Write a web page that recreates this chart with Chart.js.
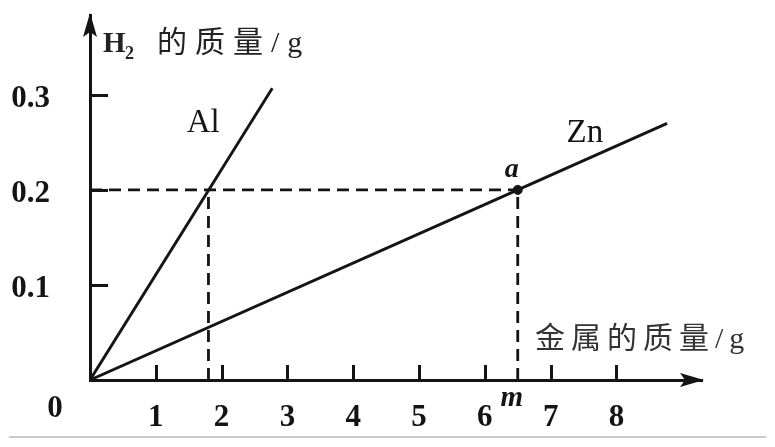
<!DOCTYPE html>
<html>
<head>
<meta charset="utf-8">
<script src="https://cdn.jsdelivr.net/npm/chart.js@4.4.1/dist/chart.umd.min.js"></script>
<style>
  html, body { margin: 0; padding: 0; background: #fff; }
  #wrap { width: 775px; height: 447px; position: relative; }
</style>
</head>
<body>
<div id="wrap"><canvas id="graph1"></canvas></div>
<script>
// metal mass (g) vs H2 mass (g)
const alMass = [0, 2.77];
const alH2 = [0, 0.307];
const znMass = [0, 6.5, 8.77];
const znH2 = [0, 0.2, 0.27];
const pointA = [6.5, 0.2];
const alAt02 = 1.8;
const xTicks = [1, 2, 3, 4, 5, 6, 7, 8];
const yTicks = [0.1, 0.2, 0.3];

const ink = "#141414";
const serif = '"Liberation Serif", "Times New Roman", "Noto Sans CJK SC", serif';
const toXY = (xs, ys) => xs.map((x, i) => ({ x: x, y: ys[i] }));

function solid(data) {
    return { data: data, showLine: true, borderColor: ink, borderWidth: 2.9, pointRadius: 0, fill: false };
}
function dashed(data) {
    return { data: data, showLine: true, borderColor: ink, borderWidth: 2.8, borderDash: [12, 7], pointRadius: 0, fill: false };
}

function say(ctx, s, x, y, font, color, align, spacing) {
    ctx.save();
    ctx.font = font;
    ctx.fillStyle = color || ink;
    ctx.textAlign = align || "left";
    ctx.textBaseline = "alphabetic";
    ctx.letterSpacing = spacing || "0px";
    ctx.fillText(s, x, y);
    ctx.restore();
}

const decor = {
    id: "decor",
    afterDraw(chart) {
        const ctx = chart.ctx;
        const xs = chart.scales.x, ys = chart.scales.y;
        const x0 = xs.getPixelForValue(0), y0 = ys.getPixelForValue(0);
        const xEnd = xs.right, yTop = ys.top;
        ctx.save();
        ctx.strokeStyle = ink;
        ctx.fillStyle = ink;
        ctx.lineWidth = 3;
        // tick marks pointing inward
        xTicks.forEach(v => {
            const p = Math.round(xs.getPixelForValue(v)) + 0.5;
            ctx.beginPath(); ctx.moveTo(p, y0); ctx.lineTo(p, y0 - 15); ctx.stroke();
        });
        yTicks.forEach(v => {
            const p = Math.round(ys.getPixelForValue(v)) + 0.5;
            ctx.beginPath(); ctx.moveTo(x0, p); ctx.lineTo(x0 + 18, p); ctx.stroke();
        });
        // arrow heads
        ctx.beginPath();
        ctx.moveTo(xEnd + 2, y0); ctx.lineTo(xEnd - 22, y0 - 7); ctx.lineTo(xEnd - 17, y0); ctx.lineTo(xEnd - 22, y0 + 7);
        ctx.closePath(); ctx.fill();
        ctx.beginPath();
        ctx.moveTo(x0, yTop - 2); ctx.lineTo(x0 - 7, yTop + 22); ctx.lineTo(x0, yTop + 17); ctx.lineTo(x0 + 7, yTop + 22);
        ctx.closePath(); ctx.fill();
        // bottom rule
        ctx.strokeStyle = "#b8b8b8";
        ctx.lineWidth = 1.5;
        ctx.beginPath(); ctx.moveTo(9, 437); ctx.lineTo(766, 437); ctx.stroke();
        ctx.restore();

        // axis titles
        say(ctx, "H", 103, 52, "bold 29px " + serif, "#222");
        say(ctx, "2", 125, 59, "bold 18px " + serif, "#222");
        say(ctx, "的质量/g", 157, 52, "30px " + serif, "#222", "left", "8px");
        say(ctx, "金属的质量/g", 535, 348, "30px " + serif, "#333", "left", "6px");
        // origin and labels
        say(ctx, "0", 55, 417, "bold 31px " + serif, ink, "center");
        const ax = xs.getPixelForValue(pointA[0]), ay = ys.getPixelForValue(pointA[1]);
        say(ctx, "m", ax - 6, 406, "bold italic 29px " + serif, ink, "center");
        say(ctx, "a", ax - 6, ay - 13, "bold italic 28px " + serif, ink, "center");
        say(ctx, "Al", xs.getPixelForValue(1.72), ys.getPixelForValue(0.261), "33px " + serif, ink, "center");
        say(ctx, "Zn", xs.getPixelForValue(7.52), ys.getPixelForValue(0.25), "33px " + serif, ink, "center");
    }
};

new Chart(document.getElementById("graph1"), {
    type: "scatter",
    data: {
        datasets: [
            dashed([{ x: 0, y: pointA[1] }, { x: pointA[0], y: pointA[1] }]),
            dashed([{ x: alAt02, y: 0 }, { x: alAt02, y: pointA[1] }]),
            dashed([{ x: pointA[0], y: 0 }, { x: pointA[0], y: pointA[1] }]),
            solid(toXY(alMass, alH2)),
            solid(toXY(znMass, znH2)),
            { data: [{ x: pointA[0], y: pointA[1] }], pointRadius: 4.5, pointBackgroundColor: ink, pointBorderColor: ink, showLine: false }
        ]
    },
    options: {
        responsive: true,
        maintainAspectRatio: false,
        animation: false,
        events: [],
        layout: { padding: { left: 0, top: 15, right: 73, bottom: 0 } },
        plugins: { legend: { display: false }, tooltip: { enabled: false } },
        scales: {
            x: {
                type: "linear",
                min: 0,
                max: 9.3,
                afterFit: s => { s.height = 67; s.paddingLeft = 0; s.paddingRight = 0; },
                afterBuildTicks: s => { s.ticks = xTicks.map(v => ({ value: v })); },
                grid: { display: false },
                border: { display: true, color: ink, width: 3 },
                ticks: { color: ink, padding: 11, maxRotation: 0, font: { family: serif, size: 31, weight: "bold" } }
            },
            y: {
                type: "linear",
                min: 0,
                max: 0.384,
                afterFit: s => { s.width = 90; s.paddingTop = 0; s.paddingBottom = 0; },
                afterBuildTicks: s => { s.ticks = yTicks.map(v => ({ value: v })); },
                grid: { display: false },
                border: { display: true, color: ink, width: 3 },
                ticks: { color: ink, padding: 32, labelOffset: 4, font: { family: serif, size: 31, weight: "bold" } }
            }
        }
    },
    plugins: [decor]
});
</script>
</body>
</html>
